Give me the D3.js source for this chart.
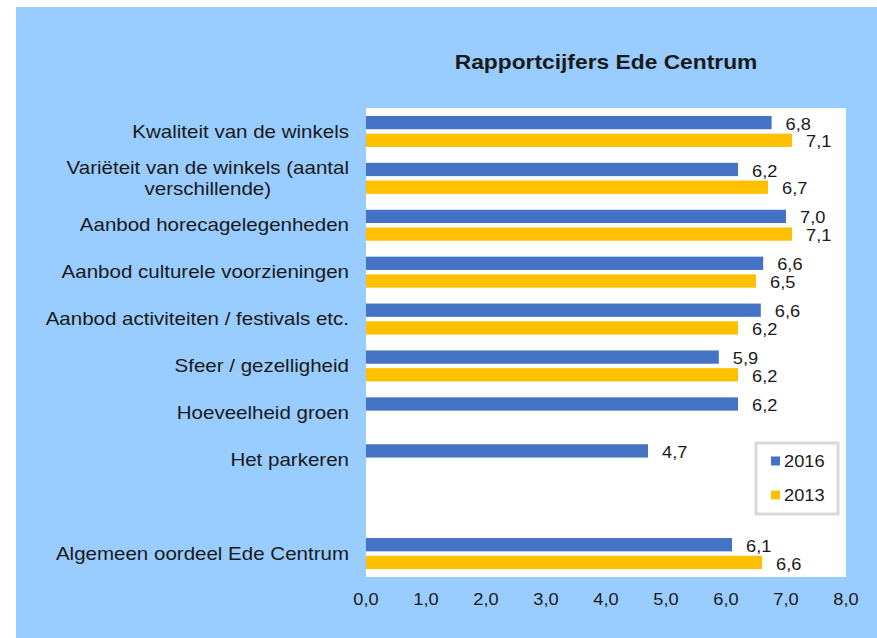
<!DOCTYPE html>
<html lang="nl">
<head>
<meta charset="UTF-8">
<title>Rapportcijfers Ede Centrum</title>
<script src="https://d3js.org/d3.v7.min.js"></script>
<style>
  body { margin: 0; background: #fff; }
  text { font-family: "Liberation Sans", Arial, sans-serif; fill: #1a1a1a; }
</style>
</head>
<body>
<svg width="877" height="638"></svg>
<script>
// data
const categories = [
  "Kwaliteit van de winkels",
  "Variëteit van de winkels (aantal|verschillende)",
  "Aanbod horecagelegenheden",
  "Aanbod culturele voorzieningen",
  "Aanbod activiteiten / festivals etc.",
  "Sfeer / gezelligheid",
  "Hoeveelheid groen",
  "Het parkeren",
  "",
  "Algemeen oordeel Ede Centrum"
];
const series = ["2016", "2013"];
const values2016 = [6.76, 6.2, 7.0, 6.62, 6.58, 5.88, 6.2, 4.7, null, 6.1];
const values2013 = [7.1, 6.7, 7.1, 6.5, 6.2, 6.2, null, null, null, 6.6];
const colors = ["#4472C4", "#FFC000"];
const xTicks = [0, 1, 2, 3, 4, 5, 6, 7, 8];

const SX = 1.14; // text in the picture is a bit wider than plain Arial
const fmt = v => d3.format(".1f")(v).replace(".", ",");

const svg = d3.select("svg");
const plot = { left: 366, right: 846, top: 108, bottom: 577 };

// background
svg.append("rect").attr("x", 16).attr("y", 7).attr("width", 877 - 16).attr("height", 638 - 7)
  .attr("fill", "#99CCFF");
svg.append("rect").attr("x", plot.left).attr("y", plot.top)
  .attr("width", plot.right - plot.left).attr("height", plot.bottom - plot.top)
  .attr("fill", "#fff");

const x = d3.scaleLinear().domain([0, 8]).range([plot.left, plot.right]);
const y = d3.scaleBand().domain(d3.range(categories.length)).range([plot.top, plot.bottom]);
const bw = y.bandwidth();
const yInner = d3.scaleBand().domain(series)
  .range([bw / 2 - 15.5, bw / 2 + 15.5]).paddingInner(0.25);

function stext(g, x0, y0, str, size, anchor, weight) {
  return g.append("text")
    .attr("transform", `translate(${x0},${y0}) scale(${SX},1)`)
    .attr("text-anchor", anchor || "start")
    .attr("dominant-baseline", "central")
    .style("font-size", size + "px")
    .style("font-weight", weight || "normal")
    .text(str);
}

// title
stext(svg, 606, 62, "Rapportcijfers Ede Centrum", 20, "middle", "bold");

// bars
const rows = [];
categories.forEach((c, i) => {
  [values2016, values2013].forEach((arr, s) => {
    if (arr[i] != null) rows.push({ i, s: series[s], v: arr[i], color: colors[s] });
  });
});

svg.append("g").selectAll("rect").data(rows).join("rect")
  .attr("x", x(0))
  .attr("y", d => y(d.i) + yInner(d.s))
  .attr("width", d => x(d.v) - x(0))
  .attr("height", yInner.bandwidth())
  .attr("fill", d => d.color);

const lab = svg.append("g");
rows.forEach(d => {
  stext(lab, x(d.v) + 14, y(d.i) + yInner(d.s) + yInner.bandwidth() / 2 + 1.5, fmt(d.v), 16);
});

// category labels (wrapped lines centred on each other, block right-aligned)
const cat = svg.append("g");
categories.forEach((c, i) => {
  if (!c) return;
  const lines = c.split("|");
  const cy = y(i) + bw / 2;
  const lh = 21.5;
  const ts = lines.map(ln => stext(cat, 0, 0, ln, 18, "middle"));
  const maxW = d3.max(ts, t => t.node().getComputedTextLength()) * SX;
  const cx = 349 - maxW / 2;
  ts.forEach((t, k) => {
    const ly = cy + (k - (lines.length - 1) / 2) * lh;
    t.attr("transform", `translate(${cx},${ly}) scale(${SX},1)`);
  });
});

// x axis labels
const ax = svg.append("g");
xTicks.forEach(t => stext(ax, x(t), 599, fmt(t), 16, "middle"));

// legend
const lg = svg.append("g");
lg.append("rect").attr("x", 756).attr("y", 443).attr("width", 82).attr("height", 71)
  .attr("fill", "#fff").attr("stroke", "#d9d9d9").attr("stroke-width", 3);
series.forEach((s, k) => {
  const ly = 461 + k * 34;
  lg.append("rect").attr("x", 771).attr("y", ly - 4.5).attr("width", 9).attr("height", 9)
    .attr("fill", colors[k]);
  stext(lg, 784, ly, s, 16);
});
</script>
</body>
</html>
